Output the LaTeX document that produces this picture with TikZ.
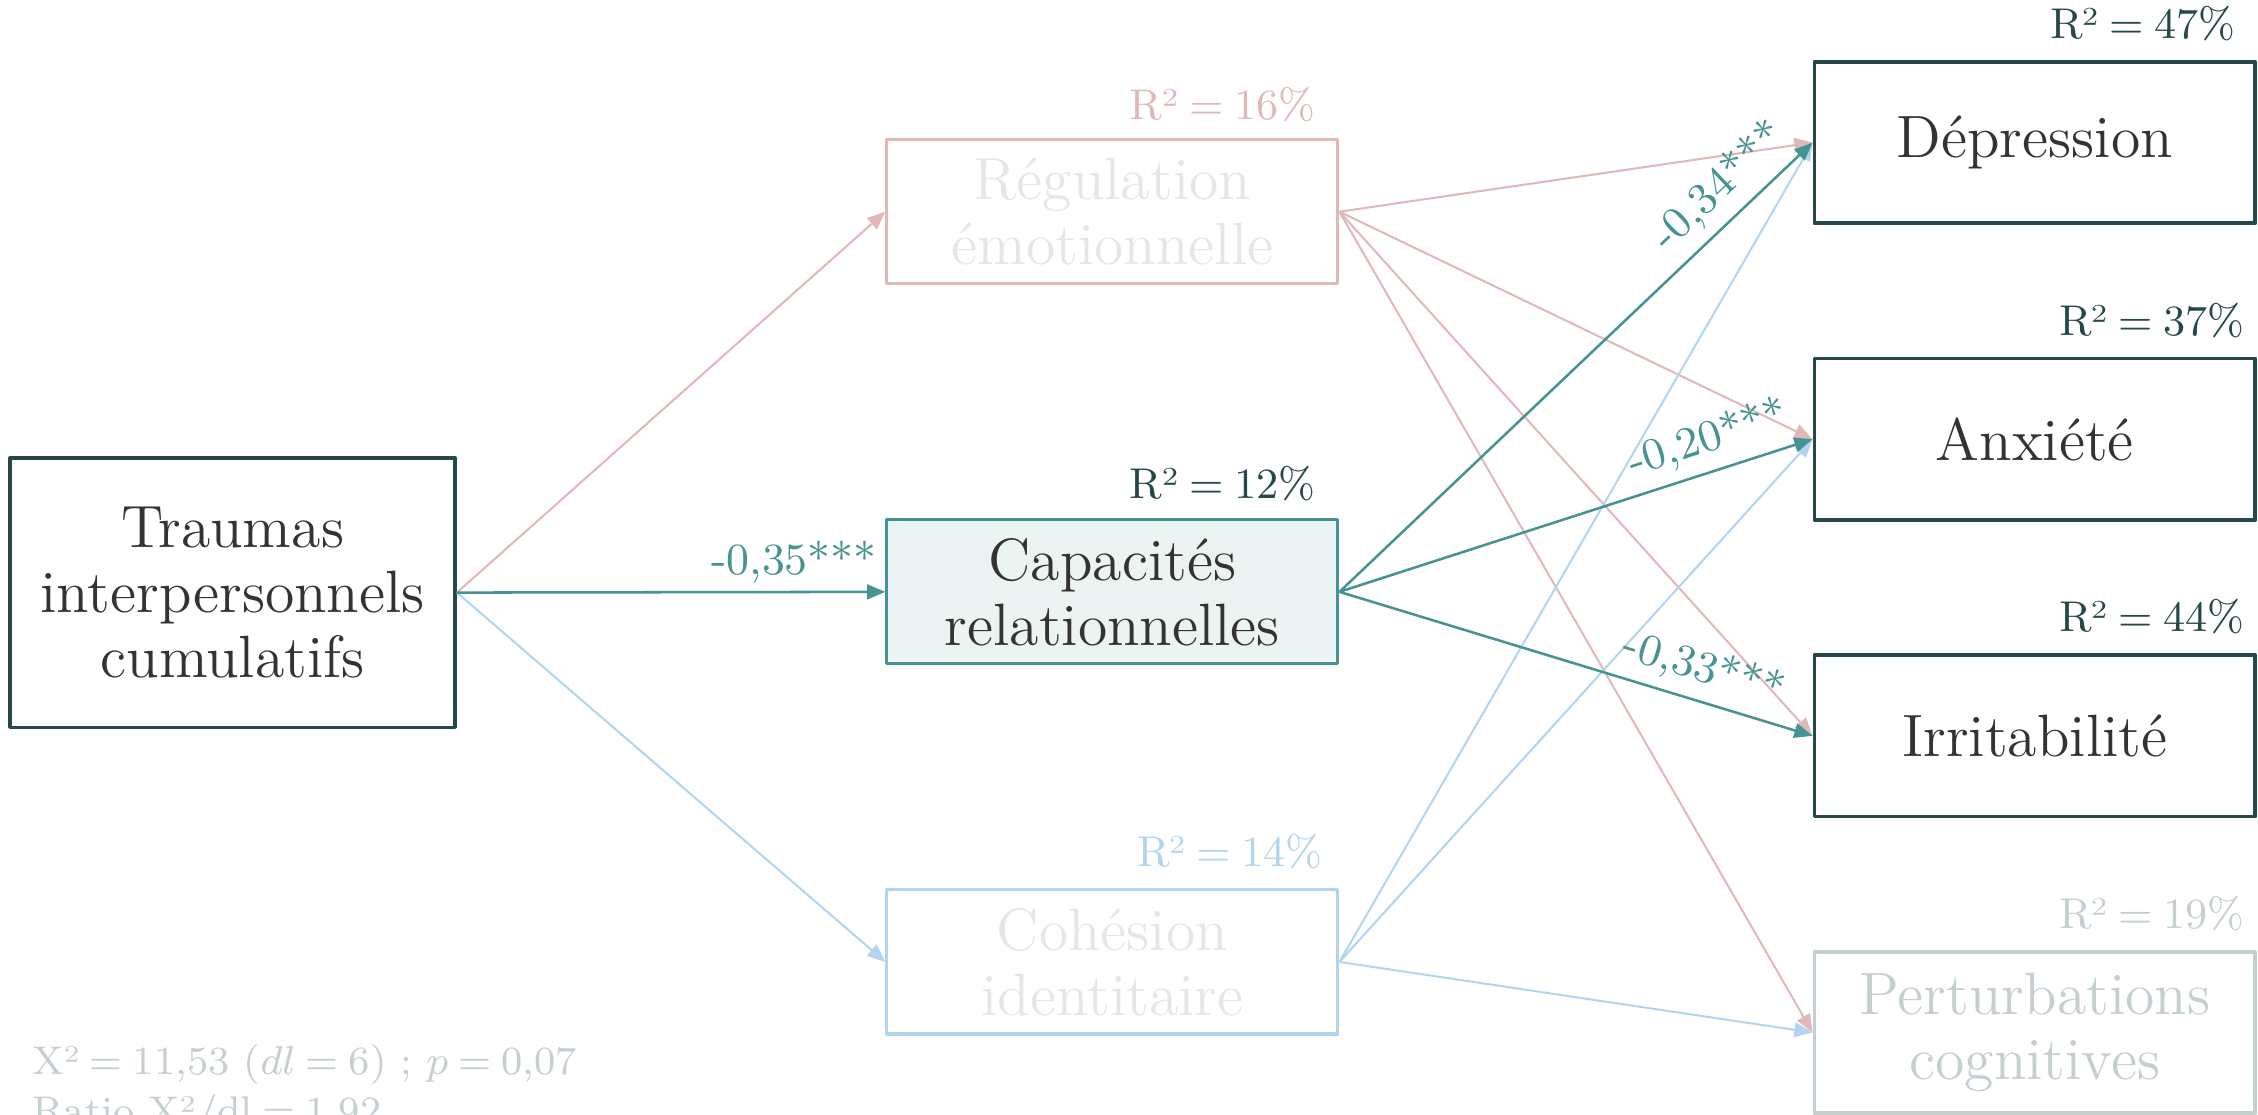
\documentclass[tikz,border=0pt]{standalone}
\usepackage{tikz}
\usetikzlibrary{arrows.meta}
\definecolor{sombre}{HTML}{264848}
\definecolor{texte}{HTML}{333333}
\definecolor{sarcelle}{HTML}{459392}
\definecolor{sarcfond}{HTML}{ECF4F3}
\definecolor{rose}{HTML}{E1B8B8}
\definecolor{bleu}{HTML}{B2D4EC}
\definecolor{gris}{HTML}{C4CFCE}
\definecolor{pale}{HTML}{E6E6E6}
\newcommand{\esp}{\hspace{0.25em}}
\begin{document}
\begin{tikzpicture}[x=0.01cm,y=-0.01cm,line join=round,>={Triangle[length=3.6pt,width=2.9pt]},
	boite/.style={draw,line width=0.6pt,minimum width=3.13cm,minimum height=1cm,align=center,inner sep=0pt,font=\fontsize{11.8}{12.8}\selectfont},
	sortie/.style={boite,line width=0.7pt,minimum width=3.06cm,minimum height=1.12cm},
	rdeux/.style={anchor=base east,inner sep=0pt,font=\fontsize{8.5}{10}\selectfont},
	coef/.style={text=sarcelle,inner sep=2pt,font=\fontsize{8.8}{10}\selectfont},
	stat/.style={anchor=base west,inner sep=0pt,text=gris,font=\fontsize{7.9}{10}\selectfont},
	fleche/.style={->,line width=0.4pt}]
	\useasboundingbox (0,0) rectangle (1568,773.6);
	% variables
	\node[boite,draw=sombre,text=texte,line width=0.7pt,minimum width=3.09cm,minimum height=1.87cm] (trauma) at (161.5,411.5) {Traumas\\interpersonnels\\cumulatifs};
	\node[boite,draw=rose,text=pale] (regul) at (772.5,147) {Régulation\\émotionnelle};
	\node[boite,draw=sarcelle,fill=sarcfond,text=texte] (capac) at (772.5,411) {Capacités\\relationnelles};
	\node[boite,draw=bleu,text=pale] (cohes) at (772.5,668) {Cohésion\\identitaire};
	\node[sortie,draw=sombre,text=texte] (depr) at (1413,99) {Dépression};
	\node[sortie,draw=sombre,text=texte] (anx) at (1413,305) {Anxiété};
	\node[sortie,draw=sombre,text=texte] (irr) at (1413,511) {Irritabilité};
	\node[sortie,draw=gris,text=gris] (pert) at (1413,717) {Perturbations\\cognitives};
	% R2
	\node[rdeux,text=rose] (r2regul) at ([xshift=-0.16cm,yshift=0.13cm]regul.north east) {R²\esp=\esp16\%};
	\node[rdeux,text=sombre] (r2capac) at ([xshift=-0.16cm,yshift=0.14cm]capac.north east) {R²\esp=\esp12\%};
	\node[rdeux,text=bleu] (r2cohes) at ([xshift=-0.11cm,yshift=0.15cm]cohes.north east) {R²\esp=\esp14\%};
	\node[rdeux,text=sombre] (r2depr) at ([xshift=-0.14cm,yshift=0.15cm]depr.north east) {R²\esp=\esp47\%};
	\node[rdeux,text=sombre] (r2anx) at ([xshift=-0.08cm,yshift=0.15cm]anx.north east) {R²\esp=\esp37\%};
	\node[rdeux,text=sombre] (r2irr) at ([xshift=-0.08cm,yshift=0.15cm]irr.north east) {R²\esp=\esp44\%};
	\node[rdeux,text=gris] (r2pert) at ([xshift=-0.08cm,yshift=0.15cm]pert.north east) {R²\esp=\esp19\%};
	% liens
	\draw[fleche,rose] (trauma.east) -- (regul.west);
	\draw[fleche,bleu] (trauma.east) -- (cohes.west);
	\foreach \cible in {depr,anx,irr,pert}
		\draw[fleche,rose] (regul.east) -- (\cible.west);
	\foreach \cible in {depr,anx,pert}
		\draw[fleche,bleu] (cohes.east) -- (\cible.west);
	\draw[fleche,sarcelle,line width=0.5pt] (trauma.east) -- (capac.west) node[coef,pos=1,anchor=south east,inner sep=1.5pt] (c35) {-0,35***};
	\draw[fleche,sarcelle,line width=0.5pt] (capac.east) -- (depr.west) node[coef,pos=0.85,sloped,above] (c34) {-0,34***};
	\draw[fleche,sarcelle,line width=0.5pt] (capac.east) -- (anx.west) node[coef,pos=0.8,sloped,above] (c20) {-0,20***};
	\draw[fleche,sarcelle,line width=0.5pt] (capac.east) -- (irr.west) node[coef,pos=0.75,sloped,above] (c33) {-0,33***};
	% ajustement
	\node[stat] (chideux) at (22,746) {X²\esp=\esp11,53 ($dl$\esp=\esp6) ; $p$\esp=\esp0,07};
	\node[stat] (ratio) at (22,781) {Ratio X²/dl\esp=\esp1,92};
\end{tikzpicture}
\end{document}
